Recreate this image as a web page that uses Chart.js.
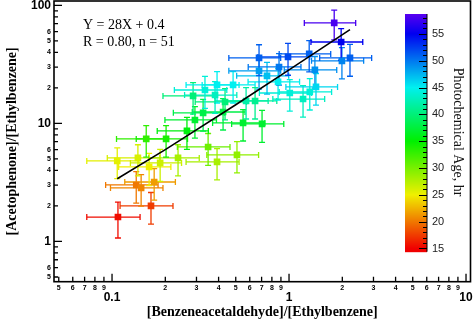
<!DOCTYPE html>
<html>
<head>
<meta charset="utf-8">
<script src="https://cdn.jsdelivr.net/npm/chart.js@4.4.1/dist/chart.umd.min.js"></script>
<style>
  html, body { margin: 0; padding: 0; background: #fff; }
</style>
</head>
<body>
<canvas id="chart" width="474" height="322"></canvas>
<script>
// [Benzeneacetaldehyde]/[Ethylbenzene] ratio
const ratioX = [0.108, 0.166, 0.137, 0.146, 0.173, 0.107, 0.140, 0.162, 0.187, 0.236,
  0.392, 0.508, 0.349, 0.156, 0.202, 0.265, 0.294, 0.327, 0.424, 0.435,
  0.550, 0.704, 0.287, 0.382, 0.392, 0.483, 0.643, 0.867, 1.01, 1.20,
  1.31, 1.42, 0.751, 0.677, 0.878, 1.40, 0.677, 0.987, 1.30, 1.99,
  2.21, 1.97, 1.80, 0.335, 0.572];
const errX = [0.036, 0.055, 0.045, 0.048, 0.055, 0.035, 0.046, 0.053, 0.06, 0.075,
  0.13, 0.165, 0.115, 0.05, 0.065, 0.085, 0.095, 0.105, 0.14, 0.14,
  0.18, 0.23, 0.093, 0.125, 0.13, 0.16, 0.21, 0.28, 0.33, 0.39,
  0.43, 0.46, 0.245, 0.22, 0.29, 0.46, 0.22, 0.32, 0.42, 0.65,
  0.72, 0.64, 0.58, 0.11, 0.19];
// [Acetophenone]/[Ethylbenzene] ratio
const ratioY = [1.61, 2.00, 3.01, 2.84, 3.19, 4.81, 5.10, 4.28, 4.63, 5.10,
  4.72, 5.41, 6.32, 7.39, 7.39, 8.64, 10.7, 12.3, 12.5, 15.2,
  10.1, 9.91, 17.1, 17.4, 21.2, 21.2, 15.5, 22.5, 18.1, 16.1,
  18.5, 20.4, 25.3, 27.9, 30.1, 28.4, 35.9, 36.6, 38.8, 33.9,
  35.9, 49.0, 71.1, 19.2, 15.5];
const errY = [0.54, 0.6, 0.9, 0.85, 0.95, 1.4, 1.5, 1.3, 1.4, 1.5,
  1.4, 1.6, 1.9, 2.2, 2.2, 2.6, 3.2, 3.7, 3.7, 4.5,
  3.0, 3.0, 5.1, 5.2, 6.3, 6.3, 4.6, 6.7, 5.4, 4.8,
  5.5, 6.1, 7.6, 8.4, 9.0, 8.5, 10.5, 11, 11.5, 10,
  10.8, 14.7, 20, 5.8, 4.6];
// photochemical age (hr), from the marker colours
const ageHr = [15.5, 17.5, 20, 20.5, 21.5, 25.5, 26, 25, 26.5, 28,
  28, 29, 30.5, 33, 34, 35.5, 37, 38, 38, 40,
  37, 37, 40, 43, 45, 45, 41, 45, 44, 43,
  44, 46, 47, 48.5, 50, 49, 51, 52, 51, 49.5,
  51, 55, 58, 44, 42];

const fitSlope = 28;
const fitIntercept = 0.4;
const fitX = [0.107, 0.2, 0.5, 1, 2.21];

const xTicks = [0.05, 0.06, 0.07, 0.08, 0.09, 0.1, 0.2, 0.3, 0.4, 0.5, 0.6, 0.7, 0.8, 0.9,
  1, 2, 3, 4, 5, 6, 7, 8, 9, 10];
const xTickLabels = ['5', '6', '7', '8', '9', '0.1', '2', '3', '4', '5', '6', '7', '8', '9',
  '1', '2', '3', '4', '5', '6', '7', '8', '9', '10'];
const yTicks = [0.5, 0.6, 0.7, 0.8, 0.9, 1, 2, 3, 4, 5, 6, 7, 8, 9,
  10, 20, 30, 40, 50, 60, 70, 80, 90, 100];
const yTickLabels = ['5', '6', '', '', '', '1', '2', '3', '4', '5', '6', '', '', '',
  '10', '2', '3', '4', '5', '6', '', '', '', '100'];
const majorTicks = [0.1, 1, 10, 100];
const ageTicks = [15, 20, 25, 30, 35, 40, 45, 50, 55];
const ageRange = [14.4, 58.7];

function ageColor(a) {
  const h = Math.max(0, (a - 15) * 6);
  return 'hsl(' + h + ', 100%, 47%)';
}

const sans = 'Liberation Sans, Arial, sans-serif';
const serif = 'Liberation Serif, Times New Roman, serif';

const points = ratioX.map((x, i) => ({ x: x, y: ratioY[i] }));
const colors = ageHr.map(ageColor);
const fitPoints = fitX.map(x => ({ x: x, y: fitSlope * x + fitIntercept }));

// error bars under the markers
const errorBars = {
  id: 'errorBars',
  beforeDatasetsDraw(chart) {
    const { ctx, scales: { x, y } } = chart;
    const cap = 3;
    ctx.save();
    ctx.lineWidth = 1.3;
    points.forEach((p, i) => {
      const px = x.getPixelForValue(p.x), py = y.getPixelForValue(p.y);
      const x0 = x.getPixelForValue(p.x - errX[i]), x1 = x.getPixelForValue(p.x + errX[i]);
      const y0 = y.getPixelForValue(p.y - errY[i]), y1 = y.getPixelForValue(p.y + errY[i]);
      ctx.strokeStyle = colors[i];
      ctx.beginPath();
      ctx.moveTo(x0, py); ctx.lineTo(x1, py);
      ctx.moveTo(x0, py - cap); ctx.lineTo(x0, py + cap);
      ctx.moveTo(x1, py - cap); ctx.lineTo(x1, py + cap);
      ctx.moveTo(px, y0); ctx.lineTo(px, y1);
      ctx.moveTo(px - cap, y0); ctx.lineTo(px + cap, y0);
      ctx.moveTo(px - cap, y1); ctx.lineTo(px + cap, y1);
      ctx.stroke();
    });
    ctx.restore();
  }
};

// frame, inward ticks, fit text and colour bar
const decorations = {
  id: 'decorations',
  afterDraw(chart) {
    const { ctx, chartArea: ca, scales: { x, y } } = chart;
    ctx.save();
    ctx.strokeStyle = '#000';
    ctx.lineWidth = 1.3;
    ctx.beginPath();
    xTicks.forEach(v => {
      const px = x.getPixelForValue(v);
      const len = majorTicks.includes(v) ? 8 : 5;
      ctx.moveTo(px, ca.bottom); ctx.lineTo(px, ca.bottom - len);
    });
    yTicks.forEach(v => {
      const py = y.getPixelForValue(v);
      const len = majorTicks.includes(v) ? 8 : 4;
      ctx.moveTo(ca.left, py); ctx.lineTo(ca.left + len, py);
    });
    ctx.stroke();
    ctx.lineWidth = 1.6;
    ctx.strokeRect(ca.left, ca.top, ca.right - ca.left, ca.bottom - ca.top);

    // fit annotation
    ctx.fillStyle = '#000';
    ctx.font = '14px ' + serif;
    ctx.textAlign = 'left';
    ctx.textBaseline = 'middle';
    ctx.fillText('Y = 28X + 0.4', ca.left + 29, ca.top + 24);
    ctx.fillText('R = 0.80, n = 51', ca.left + 29, ca.top + 41);

    // colour bar
    const bx = ca.right - 65.5, bw = 22;
    const by0 = ca.top + 13, by1 = ca.bottom - 30;
    const ageToY = a => by1 - (a - ageRange[0]) / (ageRange[1] - ageRange[0]) * (by1 - by0);
    for (let py = by0; py < by1; py += 1) {
      const a = ageRange[1] - (py - by0 + 0.5) / (by1 - by0) * (ageRange[1] - ageRange[0]);
      ctx.fillStyle = ageColor(a);
      ctx.fillRect(bx, py, bw, 1.2);
    }
    ctx.strokeStyle = '#000';
    ctx.lineWidth = 1;
    ctx.beginPath();
    ctx.moveTo(bx + bw, by0); ctx.lineTo(bx + bw, by1);
    for (let a = 15; a <= 58; a++) {
      const py = Math.round(ageToY(a)) + 0.5;
      const len = a % 5 === 0 ? 8 : 4;
      ctx.moveTo(bx + bw, py); ctx.lineTo(bx + bw - len, py);
    }
    ctx.stroke();
    ctx.fillStyle = '#222';
    ctx.font = '11px ' + sans;
    ageTicks.forEach(a => ctx.fillText(String(a), bx + bw + 5, ageToY(a)));
    ctx.translate(ca.right - 13, 132);
    ctx.rotate(Math.PI / 2);
    ctx.textAlign = 'center';
    ctx.font = '14px ' + serif;
    ctx.fillStyle = '#111';
    ctx.fillText('Photochemical Age, hr', 0, 0);
    ctx.restore();
  }
};

const noPad = s => { s.paddingTop = 0; s.paddingBottom = 0; s.paddingLeft = 0; s.paddingRight = 0; };

new Chart(document.getElementById('chart'), {
  data: {
    datasets: [
      {
        type: 'line',
        data: fitPoints,
        borderColor: '#000',
        borderWidth: 1.6,
        pointRadius: 0,
        tension: 0,
        order: 0
      },
      {
        type: 'scatter',
        data: points,
        pointStyle: 'rect',
        pointRadius: 4.7,
        pointBackgroundColor: colors,
        pointBorderWidth: 0,
        order: 1
      }
    ]
  },
  options: {
    responsive: false,
    animation: false,
    devicePixelRatio: 1,
    layout: { autoPadding: false, padding: { top: 1, right: 3.5, left: 0, bottom: 0 } },
    plugins: { legend: { display: false }, tooltip: { enabled: false } },
    scales: {
      x: {
        type: 'logarithmic',
        min: 0.047,
        max: 10.6,
        afterBuildTicks: s => { s.ticks = xTicks.map(v => ({ value: v })); },
        afterFit: s => { s.height = 40.3; noPad(s); },
        grid: { display: false, drawTicks: false, tickLength: 0 },
        border: { display: false },
        ticks: {
          autoSkip: false,
          maxRotation: 0,
          padding: 2,
          color: '#000',
          callback: (v, i) => majorTicks.includes(v) ? ['', xTickLabels[i]] : xTickLabels[i],
          font: c => majorTicks.includes(c.tick.value)
            ? { family: sans, size: 12, weight: 'bold', lineHeight: 0.8 }
            : { family: sans, size: 7, weight: 'bold' }
        },
        title: {
          display: true,
          text: '[Benzeneacetaldehyde]/[Ethylbenzene]',
          color: '#000',
          font: { family: serif, size: 14, weight: 'bold' },
          padding: { top: 0, bottom: 1 }
        }
      },
      y: {
        type: 'logarithmic',
        min: 0.456,
        max: 109,
        afterBuildTicks: s => { s.ticks = yTicks.map(v => ({ value: v })); },
        afterFit: s => { s.width = 54; noPad(s); },
        grid: { display: false, drawTicks: false, tickLength: 0 },
        border: { display: false },
        ticks: {
          autoSkip: false,
          padding: 3,
          color: '#000',
          callback: (v, i) => yTickLabels[i],
          font: c => majorTicks.includes(c.tick.value)
            ? { family: sans, size: 12, weight: 'bold' }
            : { family: sans, size: 7, weight: 'bold' }
        },
        title: {
          display: true,
          text: '[Acetophenone]/[Ethylbenzene]',
          color: '#000',
          font: { family: serif, size: 14, weight: 'bold' },
          padding: { top: 4, bottom: 0 }
        }
      }
    }
  },
  plugins: [errorBars, decorations]
});
</script>
</body>
</html>
